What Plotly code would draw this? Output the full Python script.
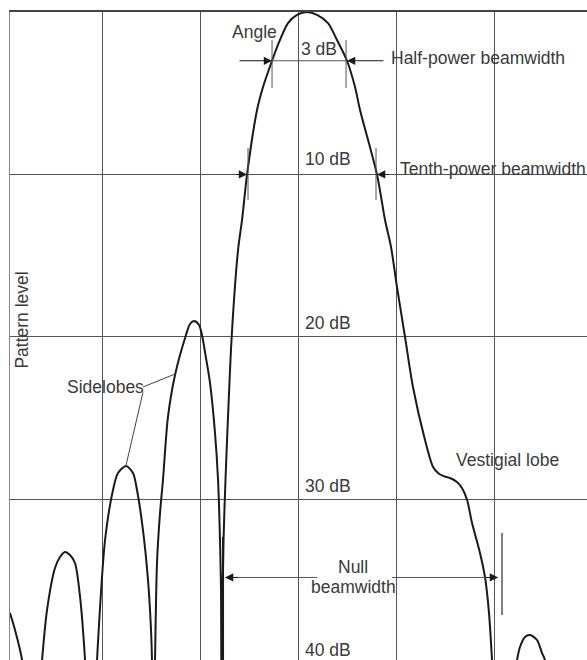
import plotly.graph_objects as go

# Pattern data: angle (grid units of 10) vs pattern level (dB below peak)
angle = [
    -29.4, -28.88, -28.16, -27.1,
    -26.12, -25.61, -24.80, -24.29, -23.78, -23.27, -22.76, -22.24, -21.73, -21.12,
    -20.51, -20.20, -19.69, -18.88, -18.37, -17.55, -16.84, -16.43, -15.82, -15.31, -15.0, -14.90, -14.75,
    -14.59, -14.39, -14.08, -13.78, -13.27, -12.55, -11.43, -11.02, -10.61, -10.10, -9.80, -9.39, -8.98,
    -8.47, -8.16, -7.96, -7.86, -7.80,
    -7.70, -7.60, -7.40, -7.24, -6.77, -6.12, -5.71, -5.20, -4.18, -3.57, -2.65, -1.84, -1.02, -0.10,
    0.92,
    1.94, 3.06, 3.98, 5.0, 5.82, 6.33, 8.06, 8.88, 9.49, 10.10, 10.92, 11.73, 12.96, 13.78, 14.29,
    14.80, 15.51, 16.22, 16.73, 17.24, 17.76, 18.57, 19.08, 19.49, 19.80, 20.6,
    22.35, 22.65, 23.16, 23.67, 24.39, 24.90, 25.2, 26.0,
]
level_db = [
    36.98, 38.03, 39.88, 47.0,
    39.88, 36.8, 34.22, 33.54, 33.23, 33.42, 33.91, 36.0, 39.88, 47.0,
    39.88, 36.62, 32.49, 29.42, 28.37, 27.94, 28.37, 29.42, 31.88, 34.95, 38.03, 39.88, 46.0,
    39.88, 33.91, 30.83, 28.8, 24.92, 22.34, 19.88, 19.2, 19.02, 19.26, 19.88, 21.29, 22.83,
    25.91, 28.8, 32.49, 35.57, 46.0,
    36.2, 32.49, 28.8, 26.34, 20.0, 14.65, 12.8, 10.0, 6.03, 4.62, 3.0, 1.72, 0.68, 0.18,
    0.0,
    0.18, 0.68, 1.72, 3.0, 4.62, 6.03, 10.0, 12.8, 14.46, 16.92, 20.0, 23.08, 26.34, 28.0, 28.37,
    28.55, 28.68, 28.92, 29.29, 30.0, 31.45, 33.29, 34.77, 36.98, 39.88, 47.0,
    39.88, 39.08, 38.46, 38.34, 38.65, 39.45, 39.88, 46.0,
]

grid_levels = [10, 20, 30]
level_labels = ["10 dB", "20 dB", "30 dB", "40 dB"]
label_levels = [9.02, 19.17, 29.17, 39.26]

INK = "#1a1a1a"
TXT = "#3a3a3a"
GRID = "#555555"
FONT = dict(family="Liberation Sans, Arial, sans-serif", size=17.5, color=TXT)

fig = go.Figure()
fig.add_trace(go.Scatter(
    x=angle, y=level_db, mode="lines",
    line=dict(color=INK, width=2, shape="spline", smoothing=0.8),
    hoverinfo="skip", showlegend=False,
))

shapes = []
def seg(x0, y0, x1, y1, w=1, c=GRID):
    shapes.append(dict(type="line", xref="x", yref="y", x0=x0, y0=y0, x1=x1, y1=y1,
                       line=dict(color=c, width=w)))

# 3 dB markers
seg(-2.65, 3.0, 5.0, 3.0)
seg(-2.65, 1.72, -2.65, 4.68)
seg(4.9, 1.72, 4.9, 4.68)
# 10 dB ticks
seg(-5.10, 8.37, -5.10, 11.57)
seg(7.96, 8.37, 7.96, 11.57)
# Null beamwidth line and ticks
seg(-7.45, 34.8, 1.94, 34.8)
seg(9.59, 34.8, 20.41, 34.8)
seg(-7.65, 32.3, -7.65, 40.5, w=2, c=INK)
seg(20.82, 32.06, 20.82, 37.11, w=1.5)
# Sidelobes leaders
seg(-15.82, 23.08, -12.55, 22.28, c="#444")
seg(-15.82, 23.4, -17.55, 27.9, c="#444")

annotations = []
def arrow(x_head, y, x_tail):
    annotations.append(dict(x=x_head, y=y, ax=x_tail, ay=y, xref="x", yref="y",
                            axref="x", ayref="y", text="", showarrow=True,
                            arrowhead=2, arrowsize=1.5, arrowwidth=1.1,
                            arrowcolor=INK, standoff=0))

arrow(-2.65, 3.0, -6.12)
arrow(5.0, 3.0, 8.88)
arrow(-5.20, 10.0, -6.43)
arrow(8.06, 10.0, 9.39)
arrow(-7.45, 34.8, -6.0)
arrow(20.41, 34.8, 19.0)

def label(txt, x, y, xanchor="center", angle=0):
    annotations.append(dict(x=x, y=y, xref="x", yref="y", text=txt, showarrow=False,
                            xanchor=xanchor, yanchor="middle", font=FONT,
                            textangle=angle, borderpad=0))

label("Angle", -4.44, 1.26)
label("3 dB", 0.2, 2.28, xanchor="left")
label("Half-power beamwidth", 9.39, 2.86, xanchor="left")
label("Tenth-power beamwidth", 10.31, 9.66, xanchor="left")
for t, lv in zip(level_labels, label_levels):
    label(t, 0.61, lv, xanchor="left")
label("Sidelobes", -19.69, 23.08)
label("Vestigial lobe", 21.38, 27.57)
label("Null", 5.61, 34.18)
label("beamwidth", 5.66, 35.38)
label("Pattern level", -28.2, 18.95, angle=-90)

fig.update_layout(
    width=587, height=660,
    margin=dict(l=10, r=0, t=12, b=0),
    paper_bgcolor="white", plot_bgcolor="white",
    shapes=shapes, annotations=annotations,
    xaxis=dict(range=[-29.39, 29.49], tick0=0, dtick=10, showgrid=True,
               gridcolor=GRID, gridwidth=1.2, zeroline=False, showticklabels=False,
               ticks="", side="top", showline=True, linecolor="#444", linewidth=2),
    yaxis=dict(range=[39.88, 0], tickvals=grid_levels, showgrid=True,
               gridcolor=GRID, gridwidth=1.2, zeroline=False, showticklabels=False,
               ticks="", showline=True, linecolor="#888", linewidth=1.2),
)

fig.write_html(
    "out.html",
    config={"displayModeBar": False},
    post_script="document.body.style.margin='0';document.body.style.overflow='hidden';",
)
